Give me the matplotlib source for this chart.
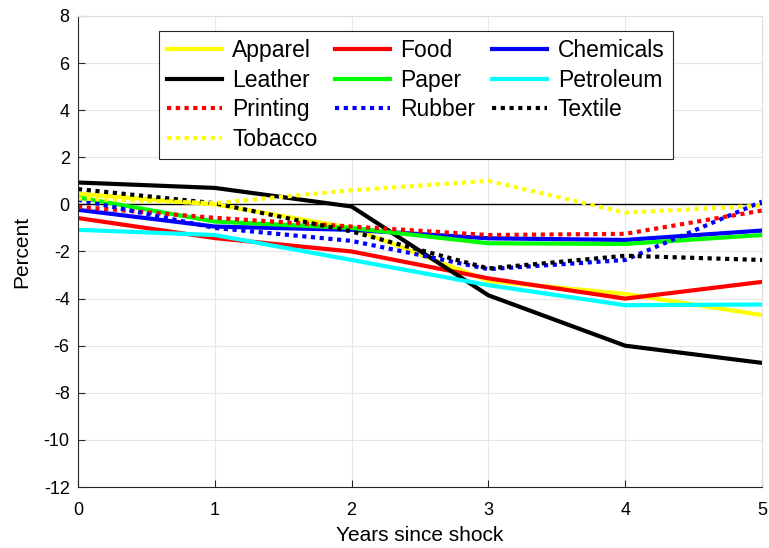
import matplotlib
matplotlib.use("Agg")
import matplotlib.pyplot as plt

plt.rcParams['font.family'] = ['Liberation Sans', 'DejaVu Sans']
plt.rcParams['axes.unicode_minus'] = False

years = [0, 1, 2, 3, 4, 5]
apparel   = [0.45, 0.0, -1.0, -3.25, -3.8, -4.7]
food      = [-0.58, -1.43, -2.0, -3.14, -4.0, -3.29]
chemicals = [-0.23, -0.94, -1.08, -1.44, -1.51, -1.11]
leather   = [0.93, 0.7, -0.09, -3.86, -6.0, -6.73]
paper     = [0.3, -0.73, -1.0, -1.65, -1.68, -1.3]
petroleum = [-1.08, -1.3, -2.36, -3.43, -4.28, -4.25]
printing  = [-0.1, -0.57, -0.94, -1.3, -1.25, -0.26]
rubber    = [0.2, -1.0, -1.55, -2.75, -2.36, 0.12]
textile   = [0.65, 0.05, -1.15, -2.72, -2.18, -2.36]
tobacco   = [0.25, 0.05, 0.6, 1.0, -0.35, -0.05]

series = [
    ("Apparel", apparel, (1, 1, 0), '-'),
    ("Food", food, (1, 0, 0), '-'),
    ("Chemicals", chemicals, (0, 0, 1), '-'),
    ("Leather", leather, (0, 0, 0), '-'),
    ("Paper", paper, (0, 1, 0), '-'),
    ("Petroleum", petroleum, (0, 1, 1), '-'),
    ("Printing", printing, (1, 0, 0), ':'),
    ("Rubber", rubber, (0, 0, 1), ':'),
    ("Textile", textile, (0, 0, 0), ':'),
    ("Tobacco", tobacco, (1, 1, 0), ':'),
]

fig = plt.figure(figsize=(7.69, 5.48), dpi=100)
ax = fig.add_axes([78/769, 1-487/548, 684/769, 471/548])

handles = {}
for name, vals, col, ls in series:
    if ls == ':':
        ln, = ax.plot(years, vals, color=col, lw=3.0, linestyle=(0, (1, 1.1)),
                      dash_capstyle='butt', label=name)
    else:
        ln, = ax.plot(years, vals, color=col, lw=3.0, label=name)
    handles[name] = ln

ax.axhline(0, color='black', lw=1.0, zorder=1)

ax.set_xlim(0, 5)
ax.set_ylim(-12, 8)
ax.set_xticks(range(0, 6))
ax.set_yticks(range(-12, 9, 2))
ax.grid(True, color='#e6e6e6', lw=0.8)
ax.set_axisbelow(True)
ax.tick_params(direction='in', labelsize=13, length=5, color='#262626')
ax.tick_params(axis='y', pad=6)
ax.tick_params(axis='x', pad=11)
for s in ['left', 'bottom']:
    ax.spines[s].set_color('#262626')
    ax.spines[s].set_linewidth(0.8)
for s in ['top', 'right']:
    ax.spines[s].set_color('#dddddd')
    ax.spines[s].set_linewidth(0.8)

ax.set_xlabel("Years since shock", fontsize=15, labelpad=5)
ax.set_ylabel("Percent", fontsize=15, labelpad=9)

order = ["Apparel", "Leather", "Printing", "Tobacco",
         "Food", "Paper", "Rubber",
         "Chemicals", "Petroleum", "Textile"]
leg = ax.legend([handles[n] for n in order], order, ncol=3,
                loc='upper left', bbox_to_anchor=(0.118, 0.968),
                borderaxespad=0, fontsize=16.5, frameon=True, fancybox=False,
                edgecolor='#262626', framealpha=1, handlelength=2.4,
                handletextpad=0.45, columnspacing=0.75, labelspacing=0.28,
                borderpad=0.36)
leg.get_frame().set_linewidth(0.8)

fig.savefig("out.png", dpi=100)
